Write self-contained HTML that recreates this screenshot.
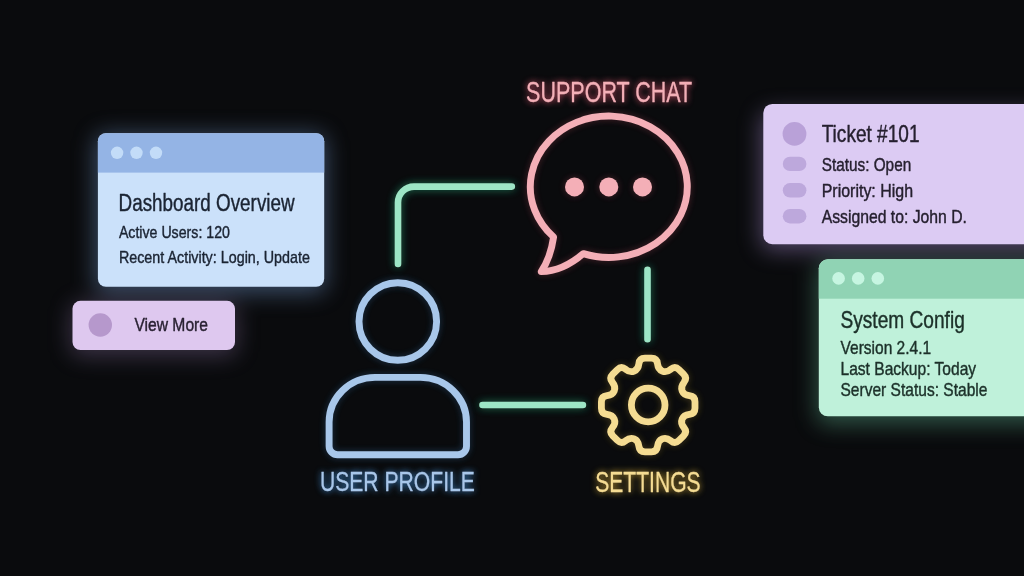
<!DOCTYPE html>
<html><head><meta charset="utf-8"><title>UI Diagram</title>
<style>html,body{margin:0;padding:0;background:#0a0b0d;width:1024px;height:576px;overflow:hidden}</style>
</head><body>
<svg width="1024" height="576" viewBox="0 0 1024 576" style="display:block;font-family:'Liberation Sans',sans-serif">
<defs>
<filter id="glow" x="-30%" y="-30%" width="160%" height="160%">
<feGaussianBlur in="SourceGraphic" stdDeviation="3.5" result="b"/>
<feComponentTransfer in="b" result="b2"><feFuncA type="linear" slope="0.22"/></feComponentTransfer>
<feMerge><feMergeNode in="b2"/><feMergeNode in="SourceGraphic"/></feMerge>
</filter>
<filter id="glowg" x="-40%" y="-40%" width="180%" height="180%">
<feGaussianBlur in="SourceGraphic" stdDeviation="4" result="b"/>
<feComponentTransfer in="b" result="b2"><feFuncA type="linear" slope="0.45"/></feComponentTransfer>
<feMerge><feMergeNode in="b2"/><feMergeNode in="SourceGraphic"/></feMerge>
</filter>
<filter id="tglow" x="-10%" y="-40%" width="120%" height="180%">
<feGaussianBlur in="SourceGraphic" stdDeviation="3" result="b"/>
<feComponentTransfer in="b" result="b2"><feFuncA type="linear" slope="1.0"/></feComponentTransfer>
<feMerge><feMergeNode in="b2"/><feMergeNode in="SourceGraphic"/></feMerge>
</filter>
<filter id="cardglow" x="-10%" y="-20%" width="120%" height="140%" filterUnits="objectBoundingBox">
<feGaussianBlur in="SourceGraphic" stdDeviation="11"/>
</filter>
<filter id="tgP" x="-30%" y="-30%" width="160%" height="160%"><feGaussianBlur in="SourceAlpha" stdDeviation="3.0" result="b"/><feComponentTransfer in="b" result="b2"><feFuncA type="linear" slope="1.00"/></feComponentTransfer><feFlood flood-color="#d8506a"/><feComposite in2="b2" operator="in" result="g"/><feMerge><feMergeNode in="g"/><feMergeNode in="SourceGraphic"/></feMerge></filter>
<filter id="tgB" x="-30%" y="-30%" width="160%" height="160%"><feGaussianBlur in="SourceAlpha" stdDeviation="3.0" result="b"/><feComponentTransfer in="b" result="b2"><feFuncA type="linear" slope="1.00"/></feComponentTransfer><feFlood flood-color="#3f8fd8"/><feComposite in2="b2" operator="in" result="g"/><feMerge><feMergeNode in="g"/><feMergeNode in="SourceGraphic"/></feMerge></filter>
<filter id="tgY" x="-30%" y="-30%" width="160%" height="160%"><feGaussianBlur in="SourceAlpha" stdDeviation="3.0" result="b"/><feComponentTransfer in="b" result="b2"><feFuncA type="linear" slope="1.00"/></feComponentTransfer><feFlood flood-color="#c8a030"/><feComposite in2="b2" operator="in" result="g"/><feMerge><feMergeNode in="g"/><feMergeNode in="SourceGraphic"/></feMerge></filter>
<filter id="sgP" x="-40%" y="-40%" width="180%" height="180%"><feGaussianBlur in="SourceAlpha" stdDeviation="3.5" result="b"/><feComponentTransfer in="b" result="b2"><feFuncA type="linear" slope="0.30"/></feComponentTransfer><feFlood flood-color="#d8506a"/><feComposite in2="b2" operator="in" result="g"/><feMerge><feMergeNode in="g"/><feMergeNode in="SourceGraphic"/></feMerge></filter>
<filter id="sgB" x="-40%" y="-40%" width="180%" height="180%"><feGaussianBlur in="SourceAlpha" stdDeviation="3.5" result="b"/><feComponentTransfer in="b" result="b2"><feFuncA type="linear" slope="0.30"/></feComponentTransfer><feFlood flood-color="#3f8fd8"/><feComposite in2="b2" operator="in" result="g"/><feMerge><feMergeNode in="g"/><feMergeNode in="SourceGraphic"/></feMerge></filter>
<filter id="sgY" x="-40%" y="-40%" width="180%" height="180%"><feGaussianBlur in="SourceAlpha" stdDeviation="3.5" result="b"/><feComponentTransfer in="b" result="b2"><feFuncA type="linear" slope="0.30"/></feComponentTransfer><feFlood flood-color="#c8a030"/><feComposite in2="b2" operator="in" result="g"/><feMerge><feMergeNode in="g"/><feMergeNode in="SourceGraphic"/></feMerge></filter>
<filter id="sgG" x="-40%" y="-40%" width="180%" height="180%"><feGaussianBlur in="SourceAlpha" stdDeviation="4.0" result="b"/><feComponentTransfer in="b" result="b2"><feFuncA type="linear" slope="0.55"/></feComponentTransfer><feFlood flood-color="#28c088"/><feComposite in2="b2" operator="in" result="g"/><feMerge><feMergeNode in="g"/><feMergeNode in="SourceGraphic"/></feMerge></filter>
<clipPath id="c1"><rect x="97.9" y="133.2" width="226.3" height="153.6" rx="8"/></clipPath>
<clipPath id="c3"><rect x="818.8" y="259.3" width="240" height="157.0" rx="9"/></clipPath>
</defs>
<rect width="1024" height="576" fill="#0a0b0d"/>
<g filter="url(#cardglow)">
<rect x="95" y="134" width="231" height="159" rx="10" fill="#7fa6e0" opacity="0.42"/>
<rect x="70.5" y="303" width="166.5" height="53" rx="10" fill="#c9a2ea" opacity="0.26"/>
<rect x="761" y="112" width="300" height="138" rx="10" fill="#b99ae8" opacity="0.42"/>
<rect x="816.6" y="262" width="240" height="162" rx="10" fill="#6fd6a8" opacity="0.36"/>
</g>
<g clip-path="url(#c1)"><rect x="97" y="132" width="228" height="156" fill="#cbe1fa"/><rect x="97" y="132" width="228" height="40.6" fill="#94b4e5"/></g>
<circle cx="117.1" cy="152.8" r="6.2" fill="#c3dcf8"/>
<circle cx="136.5" cy="152.8" r="6.2" fill="#c3dcf8"/>
<circle cx="156.0" cy="152.8" r="6.2" fill="#c3dcf8"/>
<text x="118.6" y="210.5" font-size="23.5" textLength="176.0" lengthAdjust="spacingAndGlyphs" fill="#1b2433" stroke="#1b2433" stroke-width="0.42" stroke-linejoin="round" >Dashboard Overview</text>
<text x="118.9" y="237.5" font-size="17.0" textLength="111.0" lengthAdjust="spacingAndGlyphs" fill="#1b2433" stroke="#1b2433" stroke-width="0.42" stroke-linejoin="round" >Active Users: 120</text>
<text x="118.9" y="262.5" font-size="17.0" textLength="191.0" lengthAdjust="spacingAndGlyphs" fill="#1b2433" stroke="#1b2433" stroke-width="0.42" stroke-linejoin="round" >Recent Activity: Login, Update</text>
<rect x="72.5" y="300.8" width="162.5" height="49.2" rx="8" fill="#dec8ef"/>
<circle cx="100.3" cy="325" r="11.7" fill="#b698cc"/>
<text x="134.4" y="331.1" font-size="18.9" textLength="73.6" lengthAdjust="spacingAndGlyphs" fill="#2a2233" stroke="#2a2233" stroke-width="0.42" stroke-linejoin="round" >View More</text>
<rect x="763.3" y="103.9" width="300" height="140.3" rx="9" fill="#dccbf3"/>
<circle cx="794.5" cy="133.9" r="11.9" fill="#b9a1d8"/>
<rect x="782.8" y="156.7" width="23.6" height="14.4" rx="7.2" fill="#bda8dc"/>
<rect x="782.8" y="183.1" width="23.6" height="14.4" rx="7.2" fill="#bda8dc"/>
<rect x="782.8" y="209.0" width="23.6" height="14.4" rx="7.2" fill="#bda8dc"/>
<text x="821.7" y="142.0" font-size="23.6" textLength="97.8" lengthAdjust="spacingAndGlyphs" fill="#26202f" stroke="#26202f" stroke-width="0.42" stroke-linejoin="round" >Ticket #101</text>
<text x="821.7" y="171.1" font-size="18.6" textLength="89.5" lengthAdjust="spacingAndGlyphs" fill="#26202f" stroke="#26202f" stroke-width="0.42" stroke-linejoin="round" >Status: Open</text>
<text x="821.7" y="197.0" font-size="18.6" textLength="91.4" lengthAdjust="spacingAndGlyphs" fill="#26202f" stroke="#26202f" stroke-width="0.42" stroke-linejoin="round" >Priority: High</text>
<text x="821.7" y="222.8" font-size="18.6" textLength="145.2" lengthAdjust="spacingAndGlyphs" fill="#26202f" stroke="#26202f" stroke-width="0.42" stroke-linejoin="round" >Assigned to: John D.</text>
<g clip-path="url(#c3)"><rect x="818" y="258" width="240" height="160" fill="#bff1da"/><rect x="818" y="258" width="240" height="40.7" fill="#90d3b4"/></g>
<circle cx="838.6" cy="278.4" r="6.3" fill="#c6f5e1"/>
<circle cx="858.2" cy="278.4" r="6.3" fill="#c6f5e1"/>
<circle cx="877.8" cy="278.4" r="6.3" fill="#c6f5e1"/>
<text x="840.5" y="328.4" font-size="23.8" textLength="124.3" lengthAdjust="spacingAndGlyphs" fill="#1c3029" stroke="#1c3029" stroke-width="0.42" stroke-linejoin="round" >System Config</text>
<text x="840.5" y="354.3" font-size="18.6" textLength="90.6" lengthAdjust="spacingAndGlyphs" fill="#1c3029" stroke="#1c3029" stroke-width="0.42" stroke-linejoin="round" >Version 2.4.1</text>
<text x="840.5" y="375.2" font-size="18.6" textLength="135.6" lengthAdjust="spacingAndGlyphs" fill="#1c3029" stroke="#1c3029" stroke-width="0.42" stroke-linejoin="round" >Last Backup: Today</text>
<text x="840.5" y="396.0" font-size="18.6" textLength="146.9" lengthAdjust="spacingAndGlyphs" fill="#1c3029" stroke="#1c3029" stroke-width="0.42" stroke-linejoin="round" >Server Status: Stable</text>
<g filter="url(#sgG)" fill="none" stroke="#9de6c6" stroke-width="6.6" stroke-linecap="round">
<path d="M398 264 V202.6 A16 16 0 0 1 414 186.6 H511.8"/>
<path d="M647.5 269.8 V339.2"/>
<path d="M482.5 405 H582.9"/>
</g>
<g filter="url(#sgP)">
<path d="M553.6 237.0 A78.5 70.7 0 1 1 583.3 253.6 C574 261.5 559 271.5 541.2 271.6 Q550.5 258 553.6 237.0 Z" fill="none" stroke="#f4afb7" stroke-width="6.9" stroke-linejoin="round"/>
<circle cx="574.5" cy="186.9" r="9.5" fill="#f4afb7"/>
<circle cx="608.8" cy="186.9" r="9.5" fill="#f4afb7"/>
<circle cx="642.5" cy="186.9" r="9.5" fill="#f4afb7"/>
</g>
<g filter="url(#tgP)"><text x="526.1" y="102.4" font-size="29.2" textLength="166.1" lengthAdjust="spacingAndGlyphs" fill="#f4afb7" stroke="#f4afb7" stroke-width="0.30" stroke-linejoin="round" >SUPPORT CHAT</text></g>
<g filter="url(#sgB)" fill="none" stroke="#a8c7ea" stroke-width="6.9" stroke-linejoin="round">
<circle cx="397.8" cy="321.5" r="38.8"/>
<path d="M337.6 454.7 H458.0 A8.5 8.5 0 0 0 466.5 446.2 V422 A46 44.6 0 0 0 420.5 377.4 H375.1 A46 44.6 0 0 0 329.1 422 V446.2 A8.5 8.5 0 0 0 337.6 454.7 Z"/>
</g>
<g filter="url(#tgB)"><text x="319.9" y="491.1" font-size="28.4" textLength="155.0" lengthAdjust="spacingAndGlyphs" fill="#a8c7ea" stroke="#a8c7ea" stroke-width="0.30" stroke-linejoin="round" >USER PROFILE</text></g>
<g filter="url(#sgY)" fill="none" stroke="#f5dc92" stroke-width="6.8" stroke-linejoin="round">
<path d="M634.15 371.07 Q638.31 369.35 638.87 363.87 L638.89 363.68 Q639.44 358.21 644.94 358.21 L651.46 358.21 Q656.96 358.21 657.51 363.68 L657.53 363.87 Q658.09 369.35 662.25 371.07 L662.25 371.07 Q666.42 372.80 670.68 369.32 L670.83 369.20 Q675.09 365.72 678.98 369.61 L683.59 374.22 Q687.48 378.11 684.00 382.37 L683.88 382.52 Q680.40 386.78 682.13 390.95 L682.13 390.95 Q683.85 395.11 689.33 395.67 L689.52 395.69 Q694.99 396.24 694.99 401.74 L694.99 408.26 Q694.99 413.76 689.52 414.31 L689.33 414.33 Q683.85 414.89 682.13 419.05 L682.13 419.05 Q680.40 423.22 683.88 427.48 L684.00 427.63 Q687.48 431.89 683.59 435.78 L678.98 440.39 Q675.09 444.28 670.83 440.80 L670.68 440.68 Q666.42 437.20 662.25 438.93 L662.25 438.93 Q658.09 440.65 657.53 446.13 L657.51 446.32 Q656.96 451.79 651.46 451.79 L644.94 451.79 Q639.44 451.79 638.89 446.32 L638.87 446.13 Q638.31 440.65 634.15 438.93 L634.15 438.93 Q629.98 437.20 625.72 440.68 L625.57 440.80 Q621.31 444.28 617.42 440.39 L612.81 435.78 Q608.92 431.89 612.40 427.63 L612.52 427.48 Q616.00 423.22 614.27 419.05 L614.27 419.05 Q612.55 414.89 607.07 414.33 L606.88 414.31 Q601.41 413.76 601.41 408.26 L601.41 401.74 Q601.41 396.24 606.88 395.69 L607.07 395.67 Q612.55 395.11 614.27 390.95 L614.27 390.95 Q616.00 386.78 612.52 382.52 L612.40 382.37 Q608.92 378.11 612.81 374.22 L617.42 369.61 Q621.31 365.72 625.57 369.20 L625.72 369.32 Q629.98 372.80 634.15 371.07 Z"/>
<circle cx="648.2" cy="405" r="16.8"/>
</g>
<g filter="url(#tgY)"><text x="595.2" y="491.6" font-size="28.8" textLength="105.4" lengthAdjust="spacingAndGlyphs" fill="#f5dc92" stroke="#f5dc92" stroke-width="0.30" stroke-linejoin="round" >SETTINGS</text></g>
</svg>
</body></html>
